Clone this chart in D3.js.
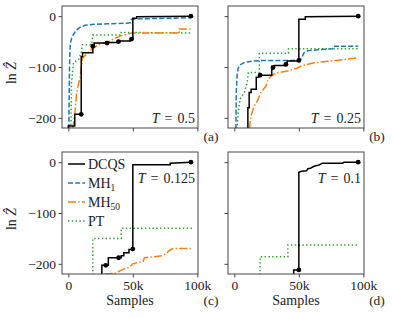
<!DOCTYPE html>
<html>
<head>
<meta charset="utf-8">
<script src="https://cdn.jsdelivr.net/npm/d3@7"></script>
<style>
  body { margin: 0; background: #fff; }
  svg text { font-family: "Liberation Serif", "Times New Roman", "DejaVu Serif", serif; fill: #222; }
</style>
</head>
<body>
<div id="chart"></div>
<script>
// values, x in thousands of samples, y = ln Z-hat
var xTicks = [0, 50, 100];
var xTickLabels = ["0", "50k", "100k"];
var yTicks = [0, -100, -200];
var yTickLabels = ["0", "\u2212100", "\u2212200"];

// (a) T = 0.5
var dcqsA = [[0,-222],[0,-216],[5,-216],[5,-193],[10,-193],[10,-80],[11,-80],[11,-72],[19,-72],[19,-59],[20,-59],[20,-53],[30,-53],[30,-52],[38,-52],[38,-49],[48,-49],[48,-45],[50,-45],[50,-4],[53,-4],[53,-1],[95,0]];
var dcqsDotsA = [[10,-193],[19,-59],[30,-53],[39,-50],[49,-45],[95,0]];
var mh1A = [[0.4,-222],[0.7,-150],[1,-90],[1.5,-55],[2.5,-44],[4,-36],[6,-28],[9,-22],[13,-18],[20,-16],[30,-15],[45,-14],[48,-13],[49,-6],[60,-5],[80,-4],[95,-3]];
var mh50A = [[3.4,-222],[5,-193],[6.5,-150],[9,-121],[11,-82],[14,-75],[18,-65],[24.5,-55],[32,-49],[40,-39],[49,-33],[86,-33],[86,-25],[95,-25]];
var ptA = [[2,-222],[2.5,-130],[4,-91],[8,-85],[10,-72],[11,-56],[18,-56],[19,-37],[41,-37],[41,-32],[95,-33]];

// (b) T = 0.25
var dcqsB = [[10.5,-222],[10.5,-180],[11.5,-180],[11.5,-150],[13,-150],[13,-144],[17,-144],[17,-120],[19,-120],[19,-116],[29,-116],[29,-103],[30,-101],[31,-97],[39,-97],[39,-93],[41,-93],[41,-88],[50,-88],[50,-6],[55,-6],[55,-1],[96,0]];
var dcqsDotsB = [[20,-116],[30,-101],[40,-95],[50,-87],[96,0]];
var mh1B = [[1.2,-222],[1.5,-150],[2.2,-115],[3,-102],[4.5,-96],[7,-92],[10,-90],[15,-88],[25,-87],[45,-87],[49,-86],[52,-84],[54,-72],[57,-68],[65,-66],[76,-64],[77,-59],[96,-59]];
var mh50B = [[11.6,-222],[13,-196],[15.5,-176],[18,-166],[20.7,-150],[24.6,-137],[26,-125],[28.5,-118],[32,-112],[41,-108],[48,-103],[53,-97],[61,-92],[79,-87],[96,-82]];
var ptB = [[2,-222],[3,-190],[4.4,-163],[7.8,-150],[10,-130],[10.9,-111],[19.4,-111],[19.4,-73],[42,-73],[42,-64],[96,-64]];

// (c) T = 0.125
var dcqsC = [[26,-222],[26,-203],[31,-203],[31,-188],[41,-188],[41,-184],[43,-184],[43,-178],[47,-178],[47,-172],[50,-172],[50,-5],[79,-5],[79,-2],[95,0]];
var dcqsDotsC = [[29,-203],[39,-188],[50,-171],[95,0]];
var mh50C = [[28,-220],[36,-219],[40,-214],[43,-210],[47,-207],[50,-200],[55,-197],[58,-195],[59,-188],[66,-186],[73,-184],[76,-180],[78,-174],[81,-170],[96,-170]];
var ptC = [[19,-222],[19,-150],[41,-150],[41,-130],[96,-130]];

// (d) T = 0.1
var dcqsD = [[46,-222],[46,-212],[50,-212],[50,-20],[52,-18],[56,-17],[57,-13],[59,-12],[61,-9],[63,-7],[65,-6],[67,-4],[68,-2],[84,-2],[85,0],[96,0]];
var dcqsDotsD = [[50,-212],[96,0]];
var ptD = [[20,-222],[20,-186],[41.5,-186],[41.5,-163],[96,-163]];

var seriesNames = ["DCQS", "MH", "MH", "PT"];
var seriesSubs = ["", "1", "50", ""];
var colors = ["#000000", "#1f77b4", "#ff7f0e", "#2ca02c"];
var dashes = [null, "5,2.2", "8,2.2,1.4,2.2", "1.4,2.4"];

var panels = [
  {left: 62, top: 6, T: "0.5", tag: "(a)", lines: [dcqsA, mh1A, mh50A, ptA], dots: dcqsDotsA, yLabels: true, xLabels: false, tBottom: true},
  {left: 228, top: 6, T: "0.25", tag: "(b)", lines: [dcqsB, mh1B, mh50B, ptB], dots: dcqsDotsB, yLabels: false, xLabels: false, tBottom: true},
  {left: 62, top: 152, T: "0.125", tag: "(c)", lines: [dcqsC, null, mh50C, ptC], dots: dcqsDotsC, yLabels: true, xLabels: true, tBottom: false, legend: true},
  {left: 228, top: 152, T: "0.1", tag: "(d)", lines: [dcqsD, null, null, ptD], dots: dcqsDotsD, yLabels: false, xLabels: true, tBottom: false}
];

var W = 393, H = 317;
var pw = 136, ph = 122;
var serif = "'Liberation Serif', 'Times New Roman', 'DejaVu Serif', serif";

var svg = d3.select("#chart").append("svg")
    .attr("width", W)
    .attr("height", H);

var x = d3.scaleLinear().domain([-4.9, 100.5]).range([0, pw]);
var y = d3.scaleLinear().domain([-220, 20]).range([ph, 0]);

var line = d3.line()
    .x(function(d) { return x(d[0]); })
    .y(function(d) { return y(d[1]); });

panels.forEach(function(p, i) {
  var g = svg.append("g").attr("transform", "translate(" + p.left + "," + p.top + ")");

  g.append("clipPath").attr("id", "clip" + i)
    .append("rect").attr("width", pw).attr("height", ph);

  var plot = g.append("g").attr("clip-path", "url(#clip" + i + ")");

  // draw back to front so DCQS ends on top
  [3, 2, 1, 0].forEach(function(k) {
    if (!p.lines[k]) return;
    plot.append("path")
      .datum(p.lines[k])
      .attr("d", line)
      .attr("fill", "none")
      .attr("stroke", colors[k])
      .attr("stroke-width", 1.5)
      .attr("stroke-dasharray", dashes[k]);
  });

  g.selectAll(".dot").data(p.dots).enter().append("circle")
    .attr("cx", function(d) { return x(d[0]); })
    .attr("cy", function(d) { return y(d[1]); })
    .attr("r", 2.4)
    .attr("fill", "#000");

  // axes
  var xAxis = d3.axisBottom(x).tickValues(xTicks).tickSizeOuter(0).tickSize(3.5)
    .tickFormat(function(d, j) { return p.xLabels ? xTickLabels[j] : ""; });
  var yAxis = d3.axisLeft(y).tickValues(yTicks).tickSizeOuter(0).tickSize(3.5)
    .tickFormat(function(d, j) { return p.yLabels ? yTickLabels[j] : ""; });

  var gx = g.append("g").attr("transform", "translate(0," + ph + ")").call(xAxis);
  var gy = g.append("g").call(yAxis);
  [gx, gy].forEach(function(a) {
    a.attr("font-family", null).attr("font-size", null);
    a.select(".domain").remove();
    a.selectAll("line").attr("stroke", "#333").attr("stroke-width", 0.9);
    a.selectAll("text").style("font-family", serif).style("font-size", "13.5px").attr("fill", "#222");
  });
  gx.selectAll("text").attr("y", 6);
  gy.selectAll("text").attr("x", -6);

  g.append("rect")
    .attr("width", pw).attr("height", ph)
    .attr("fill", "none").attr("stroke", "#333").attr("stroke-width", 0.9);

  // T label
  var ty = p.tBottom ? ph - 5 : 31;
  var t = g.append("text")
    .attr("x", pw - 3).attr("y", ty)
    .attr("text-anchor", "end")
    .style("font-family", serif)
    .style("font-size", "14px");
  t.append("tspan").style("font-style", "italic").text("T");
  t.append("tspan").attr("dx", 5).text("=");
  t.append("tspan").attr("dx", 5).text(p.T);

  // panel tag
  svg.append("text")
    .attr("x", p.left + pw + 13).attr("y", p.top + ph + (p.xLabels ? 31 : 13))
    .attr("text-anchor", "middle")
    .style("font-family", serif)
    .style("font-size", "13.5px")
    .text(p.tag);

  if (p.yLabels) {
    var yl = svg.append("text")
      .attr("transform", "translate(" + 16 + "," + (p.top + ph / 2 + 6) + ") rotate(-90)")
      .attr("text-anchor", "middle")
      .style("font-family", serif)
      .style("font-size", "14px");
    yl.append("tspan").text("ln ");
    yl.append("tspan").style("font-style", "italic").text("\u1E90");
  }

  if (p.xLabels) {
    svg.append("text")
      .attr("x", p.left + pw / 2).attr("y", p.top + ph + 31)
      .attr("text-anchor", "middle")
      .style("font-family", serif)
      .style("font-size", "14px")
      .text("Samples");
  }

  if (p.legend) {
    var lg = g.append("g").attr("transform", "translate(6,12)");
    seriesNames.forEach(function(name, k) {
      var row = lg.append("g").attr("transform", "translate(0," + (k * 19) + ")");
      row.append("line")
        .attr("x1", 0).attr("x2", 17)
        .attr("stroke", colors[k]).attr("stroke-width", 1.5)
        .attr("stroke-dasharray", dashes[k]);
      var tx = row.append("text").attr("x", 20).attr("y", 4.5)
        .style("font-family", serif).style("font-size", "14px");
      tx.append("tspan").text(name);
      if (seriesSubs[k]) {
        tx.append("tspan").attr("dy", 3).style("font-size", "9.5px").text(seriesSubs[k]);
      }
    });
  }
});
</script>
</body>
</html>
